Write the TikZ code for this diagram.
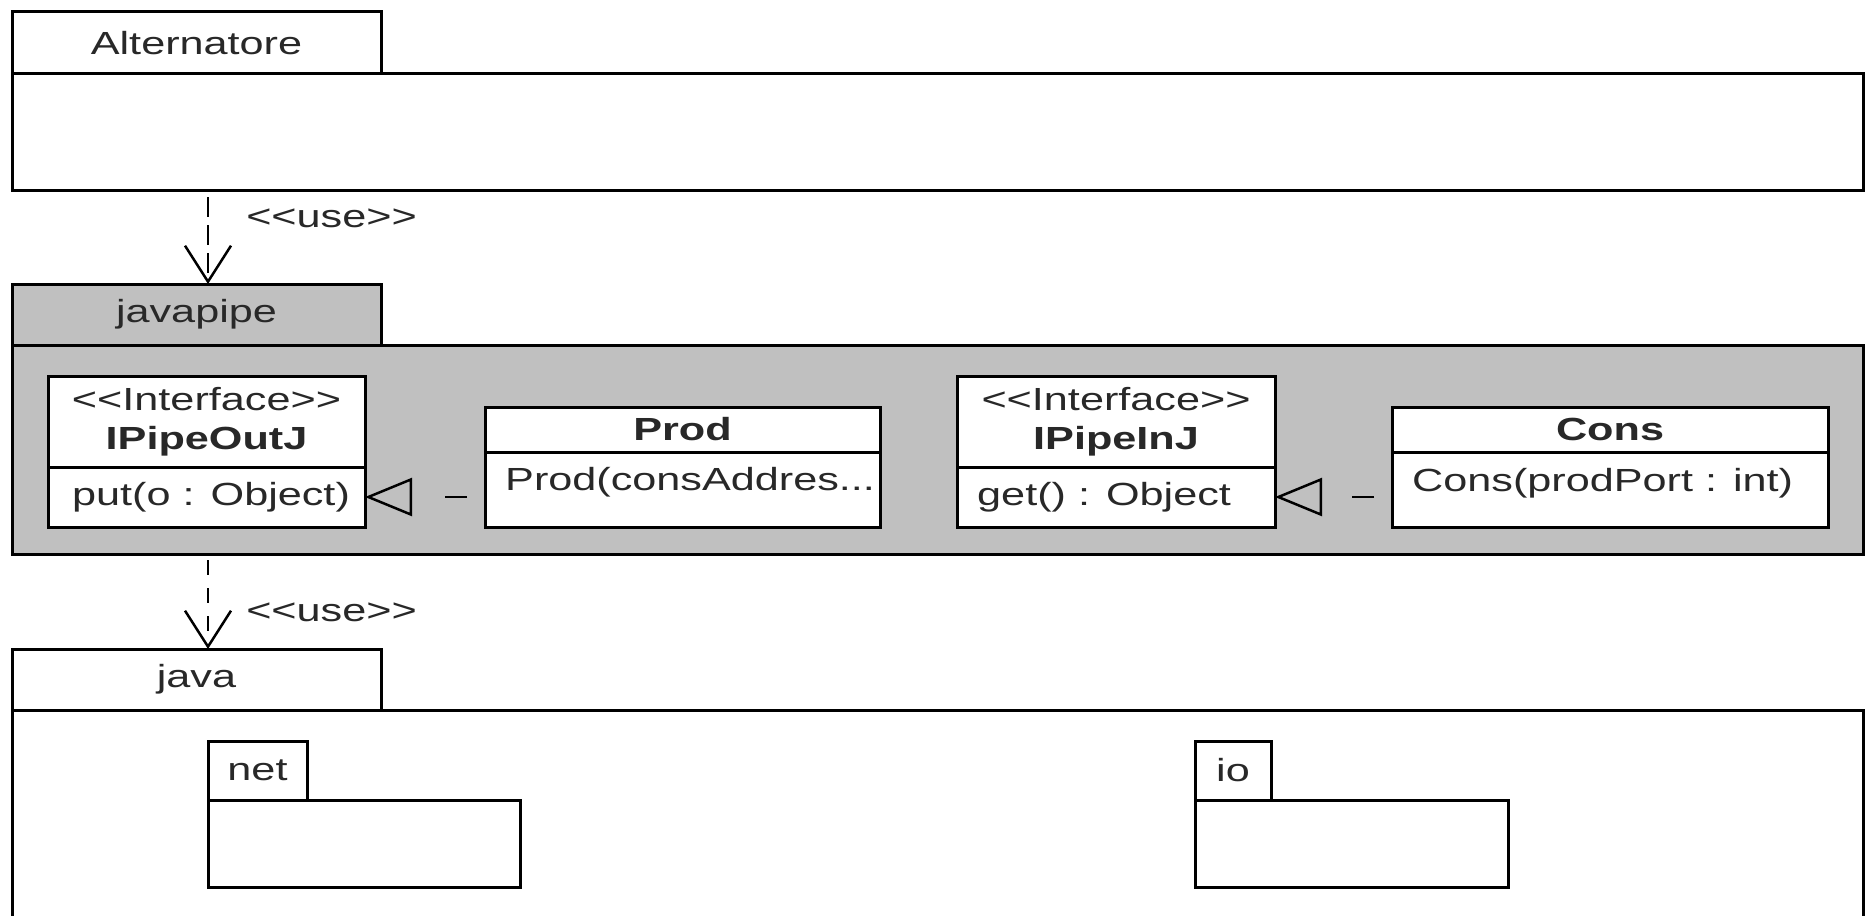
\documentclass[tikz,border=0pt]{standalone}
\usepackage{fontspec}
\setmainfont{Liberation Sans}[FakeStretch=1.35]
\usetikzlibrary{arrows.meta}
\definecolor{pkgfill}{RGB}{192,192,192}
\definecolor{inktext}{RGB}{40,40,40}
\tikzset{
  umlfont/.style={font=\fontsize{32}{39}\selectfont, text=inktext},
  frame/.style={draw=black, line width=3pt, outer sep=0pt, inner sep=0pt, anchor=north west, umlfont},
  whitebox/.style={frame, fill=white},
  graybox/.style={frame, fill=pkgfill},
  classhead/.style={frame, fill=white, align=center},
  optext/.style={umlfont, anchor=west, inner sep=0pt},
  realize/.style={draw=black, line width=2.5pt, dash pattern=on 22pt off 60pt, dash phase=64pt,
    -{Triangle[open, length=47pt, width=38pt]}},
  usedep/.style={draw=black, line width=2.5pt, -{Straight Barb[length=36pt, width=46pt]}},
  uselabel/.style={umlfont, anchor=west, inner sep=0pt, xshift=37pt},
}
\begin{document}
\begin{tikzpicture}[x=1pt,y=-1pt]
\useasboundingbox (0,0) rectangle (1867,915);
\fill[white] (0,0) rectangle (1867,915);
\begin{scope}
\clip (0,0) rectangle (1867,915);
% package Alternatore
\node[whitebox, minimum width=369pt, minimum height=62pt] (altTab) at (12,12) {Alternatore};
\node[whitebox, minimum width=1851pt, minimum height=116pt] (altBody) at (12,74) {};
% package javapipe
\node[graybox, minimum width=369pt, minimum height=61pt] (jpTab) at (12,284) {javapipe};
\node[graybox, minimum width=1851pt, minimum height=209pt] (jpBody) at (12,345) {};
% classes
\node[classhead, minimum width=317pt, minimum height=91pt] (outH) at (48,376)
  {<\kern0pt<Interface>\kern0pt>\\\textbf{IPipeOutJ}};
\node[whitebox, minimum width=317pt, minimum height=60pt] (outB) at (48,467) {};
\node[optext] (outOp) at ([xshift=24pt]outB.west) {put(o : Object)};

\node[classhead, minimum width=395pt, minimum height=45pt] (prodH) at (485,407) {\textbf{Prod}};
\node[whitebox, minimum width=395pt, minimum height=75pt] (prodB) at (485,452) {};
\node[optext] (prodOp) at ([xshift=20pt,yshift=7pt]prodB.west) {Prod(consAddres...};

\node[classhead, minimum width=318pt, minimum height=91pt] (inH) at (957,376)
  {<\kern0pt<Interface>\kern0pt>\\\textbf{IPipeInJ}};
\node[whitebox, minimum width=318pt, minimum height=60pt] (inB) at (957,467) {};
\node[optext] (inOp) at ([xshift=20pt]inB.west) {get() : Object};

\node[classhead, minimum width=436pt, minimum height=45pt] (consH) at (1392,407) {\textbf{Cons}};
\node[whitebox, minimum width=436pt, minimum height=75pt] (consB) at (1392,452) {};
\node[optext] (consOp) at ([xshift=20pt,yshift=6pt]consB.west) {Cons(prodPort : int)};

\draw[realize] (outB.east -| prodB.west) -- (outB.east);
\draw[realize] (inB.east -| consB.west) -- (inB.east);
% package java
\node[whitebox, minimum width=369pt, minimum height=61pt] (javaTab) at (12,649) {java};
\node[whitebox, minimum width=1851pt, minimum height=260pt] (javaBody) at (12,710) {};
\node[whitebox, minimum width=99pt, minimum height=59pt] (netTab) at (208,741) {net};
\node[whitebox, minimum width=312pt, minimum height=87pt] (netBody) at (208,800) {};
\node[whitebox, minimum width=76pt, minimum height=59pt] (ioTab) at (1195,741) {io};
\node[whitebox, minimum width=313pt, minimum height=87pt] (ioBody) at (1195,800) {};
% use dependencies
\draw[usedep, dash pattern=on 20pt off 8pt, dash phase=21pt]
  ([xshift=196pt]altBody.south west) -- node[uselabel, pos=0.3] {<\kern0pt<use>\kern0pt>}
  ([xshift=196pt]jpTab.north west);
\draw[usedep, dash pattern=on 15pt off 13pt, dash phase=22pt]
  ([xshift=196pt]jpBody.south west) -- node[uselabel, pos=0.61] {<\kern0pt<use>\kern0pt>}
  ([xshift=196pt]javaTab.north west);
\end{scope}
\end{tikzpicture}
\end{document}
